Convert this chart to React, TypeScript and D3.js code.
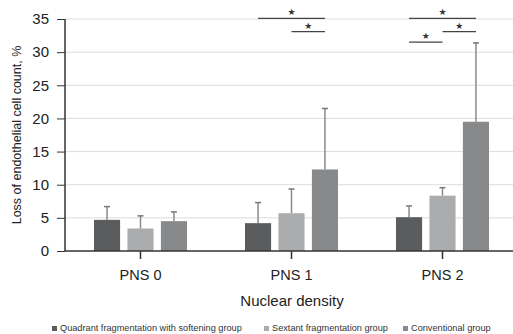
import * as d3 from 'd3';
import React, { useEffect, useRef } from 'react';

const categories = ['PNS 0', 'PNS 1', 'PNS 2'];
const groups = ['Quadrant fragmentation with softening group', 'Sextant fragmentation group', 'Conventional group'];
const groupColors = ['#5b5c5e', '#abacae', '#88898b'];

// means per group, one entry per category
const quadrant = [4.7, 4.2, 5.1];
const sextant = [3.4, 5.7, 8.35];
const conventional = [4.5, 12.3, 19.5];
// upper end of error bars
const quadrantErr = [6.7, 7.3, 6.8];
const sextantErr = [5.3, 9.35, 9.55];
const conventionalErr = [5.9, 21.5, 31.4];

const yTicks = [0, 5, 10, 15, 20, 25, 30, 35];

// significance brackets: category, from group, to group, height (in % units)
const sigCats = ['PNS 1', 'PNS 1', 'PNS 2', 'PNS 2', 'PNS 2'];
const sigFrom = [0, 1, 0, 1, 0];
const sigTo = [2, 2, 2, 2, 1];
const sigLevel = [35.1, 33.1, 35.1, 33.1, 31.5];

export default () => {
    const ref = useRef<any>();

    useEffect(() => {
        const width = 513;
        const height = 334;
        const margin = { top: 19, right: -5, bottom: 83, left: 65 };
        const innerW = width - margin.left - margin.right;
        const innerH = height - margin.top - margin.bottom;

        const svg = d3.select<any, any>(ref.current)
            .attr('width', width)
            .attr('height', height)
            .style('font-family', '"Liberation Sans", Arial, sans-serif');
        svg.selectAll('*').remove();

        const g = svg.append('g').attr('transform', `translate(${margin.left},${margin.top})`);

        const x = d3.scaleBand().domain(categories).range([0, innerW]);
        const inner = d3.scaleBand<number>().domain([0, 1, 2]).range([-46.5, 46.5]).paddingInner(0.22);
        const y = d3.scaleLinear().domain([0, 35]).range([innerH, 0]);

        // gridlines
        g.append('g').selectAll('line').data(yTicks.filter(t => t > 0)).join('line')
            .attr('x1', 0).attr('x2', innerW + 10)
            .attr('y1', d => y(d)).attr('y2', d => y(d))
            .attr('stroke', '#dcdcdc').attr('stroke-width', 1);

        const values = [quadrant, sextant, conventional];
        const errs = [quadrantErr, sextantErr, conventionalErr];
        const rows: any[] = [];
        categories.forEach((c, ci) => {
            groups.forEach((_, gi) => {
                rows.push({ c, gi, v: values[gi][ci], e: errs[gi][ci] });
            });
        });
        const cx = (d: any) => (x(d.c) as number) + x.bandwidth() / 2 + (inner(d.gi) as number) + inner.bandwidth() / 2;

        // error bars
        const eb = g.append('g');
        eb.selectAll('line.stem').data(rows).join('line')
            .attr('class', 'stem')
            .attr('x1', cx).attr('x2', cx)
            .attr('y1', d => y(d.v)).attr('y2', d => y(d.e))
            .attr('stroke', '#8a8a8a').attr('stroke-width', 1.5);
        eb.selectAll('line.cap').data(rows).join('line')
            .attr('class', 'cap')
            .attr('x1', d => cx(d) - 3).attr('x2', d => cx(d) + 3)
            .attr('y1', d => y(d.e)).attr('y2', d => y(d.e))
            .attr('stroke', '#777').attr('stroke-width', 1.5);

        // bars
        g.append('g').selectAll('rect').data(rows).join('rect')
            .attr('x', d => (x(d.c) as number) + x.bandwidth() / 2 + (inner(d.gi) as number))
            .attr('y', d => y(d.v))
            .attr('width', inner.bandwidth())
            .attr('height', d => y(0) - y(d.v))
            .attr('fill', d => groupColors[d.gi]);

        // y axis
        const yAxis = g.append('g')
            .call(d3.axisLeft(y).tickValues(yTicks).tickSize(8).tickPadding(8));
        yAxis.select('.domain').attr('stroke', '#333').attr('stroke-width', 1.5).attr('d', `M0,${innerH}V0`);
        yAxis.selectAll('.tick line').attr('stroke', '#333').attr('stroke-width', 1);
        yAxis.selectAll('.tick text').attr('font-size', 15).attr('fill', '#222')
            .style('font-family', '"Liberation Sans", Arial, sans-serif');

        // x axis
        const xAxis = g.append('g').attr('transform', `translate(0,${innerH})`)
            .call(d3.axisBottom(x).tickSize(8).tickPadding(11));
        xAxis.select('.domain').attr('stroke', '#333').attr('stroke-width', 1.5).attr('d', `M0,0H${innerW + 10}`);
        xAxis.selectAll('.tick line').attr('stroke', '#333').attr('stroke-width', 1.5);
        xAxis.selectAll('.tick text').attr('font-size', 14.5).attr('fill', '#222')
            .style('font-family', '"Liberation Sans", Arial, sans-serif');

        // significance brackets
        const sig = g.append('g');
        sigCats.forEach((c, i) => {
            const x1 = cx({ c, gi: sigFrom[i] });
            const x2 = cx({ c, gi: sigTo[i] });
            const yy = y(sigLevel[i]);
            sig.append('line')
                .attr('x1', x1).attr('x2', x2).attr('y1', yy).attr('y2', yy)
                .attr('stroke', '#444').attr('stroke-width', 1.2);
            sig.append('text')
                .attr('x', (x1 + x2) / 2).attr('y', yy - 3)
                .attr('text-anchor', 'middle')
                .attr('font-size', 9).attr('fill', '#333')
                .style('font-family', '"DejaVu Sans", sans-serif')
                .text('★');
        });

        // axis titles
        svg.append('text')
            .attr('transform', `translate(21,${margin.top + innerH / 2}) rotate(-90)`)
            .attr('text-anchor', 'middle')
            .attr('font-size', 12.5).attr('fill', '#222')
            .text('Loss of endothelial cell count, %');
        svg.append('text')
            .attr('x', 292).attr('y', 306)
            .attr('text-anchor', 'middle')
            .attr('font-size', 15).attr('fill', '#222')
            .text('Nuclear density');

        // legend
        const legendX = [52, 264, 403];
        const leg = svg.append('g');
        groups.forEach((name, i) => {
            leg.append('rect').attr('x', legendX[i]).attr('y', 326).attr('width', 5).attr('height', 5)
                .attr('fill', groupColors[i]);
            leg.append('text').attr('x', legendX[i] + 8).attr('y', 331)
                .attr('font-size', 9.2).attr('fill', '#333')
                .text(name);
        });
    });

    return (
        <svg ref={ref} style={{ position: 'absolute', left: 0, top: 0, display: 'block' }}></svg>
    );
};
